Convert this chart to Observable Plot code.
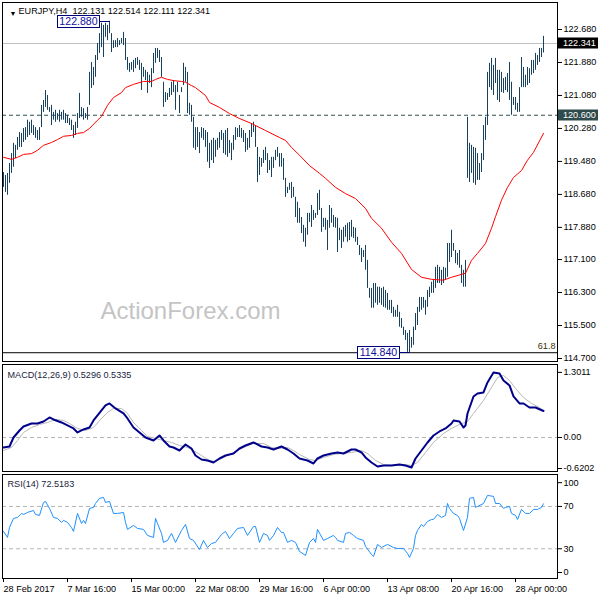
<!DOCTYPE html>
<html><head><meta charset="utf-8">
<script src="https://cdn.jsdelivr.net/npm/d3@7"></script>
<script src="https://cdn.jsdelivr.net/npm/@observablehq/plot@0.6"></script>
<style>
body{margin:0;background:#fff;}
#chart{position:relative;width:600px;height:600px;overflow:hidden;background:#fff;}
#chart svg{position:absolute;left:0;}
</style></head><body><div id="chart"></div>
<script>
// ---------- DATA ----------
const titleText = ["EURJPY,H4\u00a0 122.131 122.514 122.111 122.341"];
const macdTitle = ["MACD(12,26,9) 0.5296 0.5335"];
const rsiTitle = ["RSI(14) 72.5183"];
const watermark = ["ActionForex.com"];

const barHigh = [
119.21,119.14,119.19,119.43,119.67,119.92,119.87,120.06,120.18,120.16,
120.28,120.30,120.48,120.43,120.48,120.35,120.30,120.23,120.30,120.84,
120.96,121.20,121.08,120.79,120.84,120.67,120.72,120.64,120.72,120.67,
120.72,120.64,120.60,120.52,120.48,120.35,120.43,120.64,121.13,120.79,
120.76,120.64,120.79,121.64,121.88,121.76,122.05,122.34,122.58,122.83,
122.78,122.83,122.78,122.88,122.58,122.41,122.41,122.46,122.41,122.46,
122.61,122.46,122.00,121.86,121.88,121.93,121.98,122.00,121.93,121.86,
121.76,121.69,121.64,121.57,121.73,122.10,122.22,122.22,122.17,122.00,
121.40,121.15,121.13,121.25,121.40,121.44,121.32,121.40,121.08,121.27,
121.86,121.76,121.64,120.89,120.84,120.55,120.30,120.30,120.18,120.30,
120.28,120.23,120.18,119.92,119.99,120.04,119.99,120.04,120.18,120.23,
120.16,120.23,120.28,119.99,119.92,120.11,120.30,120.28,120.35,120.28,
120.23,120.16,120.04,120.23,120.40,120.43,120.35,119.82,119.58,119.55,
119.75,119.82,119.67,119.50,119.58,119.58,119.75,119.82,119.67,119.67,
119.55,119.07,118.85,118.95,118.97,118.85,118.61,118.49,118.34,118.12,
117.93,117.86,118.22,118.22,118.41,118.29,118.22,118.70,118.78,118.34,
118.10,118.10,118.05,118.41,118.34,118.17,118.12,118.10,117.86,117.81,
117.88,117.93,117.98,118.00,118.05,117.88,117.86,117.64,117.44,117.37,
117.32,117.44,117.08,116.40,116.40,116.52,116.52,116.43,116.43,116.40,
116.43,116.35,116.28,116.11,116.11,115.94,115.87,115.99,115.82,115.67,
115.46,115.38,115.31,115.38,115.21,115.46,115.79,115.94,116.18,116.18,
116.18,116.11,116.35,116.43,116.55,116.60,116.91,116.96,116.91,116.84,
116.91,116.89,117.49,117.49,117.81,117.49,117.32,117.25,117.32,116.96,
116.84,117.08,120.55,119.92,119.87,119.82,119.80,119.67,119.43,119.67,
120.35,120.55,121.64,121.86,121.98,121.81,121.98,121.69,121.69,121.64,
121.49,121.52,121.61,121.88,121.40,121.03,121.03,120.89,121.27,122.00,
121.76,121.57,121.76,121.73,121.93,121.93,122.10,122.05,122.22,122.22,
122.514];
const barLow = [
118.85,118.73,118.66,118.95,119.19,119.34,119.55,119.75,119.82,119.82,
119.94,119.99,120.06,120.11,120.16,120.11,120.04,119.99,119.99,120.30,
120.67,120.79,120.72,120.67,120.35,120.48,120.43,120.48,120.43,120.48,
120.48,120.40,120.40,120.35,120.23,120.04,120.11,120.28,120.52,120.55,
120.48,120.52,120.48,120.84,121.25,121.32,121.52,121.93,122.10,122.24,
122.00,122.49,122.41,122.58,122.12,122.22,122.24,122.24,122.29,122.34,
122.29,121.93,121.69,121.64,121.69,121.64,121.73,121.81,121.69,121.20,
121.52,121.44,121.13,121.37,121.27,121.61,121.86,121.98,121.88,121.52,
120.79,120.91,120.96,121.03,121.08,121.15,120.72,121.15,120.64,121.15,
121.32,121.40,120.64,120.60,120.43,119.80,119.75,119.82,119.67,120.04,
119.99,119.82,119.46,119.31,119.50,119.43,119.58,119.75,119.80,119.99,
119.67,119.63,119.58,119.67,119.50,119.75,119.99,120.06,120.06,120.04,
119.94,119.70,119.75,119.80,120.06,120.18,119.82,118.97,119.14,119.34,
119.43,119.50,119.19,119.26,119.09,119.31,119.50,119.58,119.34,119.34,
119.02,118.61,118.70,118.78,118.58,118.61,118.12,117.98,117.98,117.73,
117.52,117.40,117.69,118.00,117.88,118.05,118.10,118.17,118.29,117.76,
117.88,117.81,117.32,117.86,117.98,117.88,117.86,117.27,117.56,117.37,
117.52,117.64,117.52,117.56,117.64,117.61,117.52,117.44,117.20,117.03,
117.15,116.84,116.40,116.16,115.92,115.92,116.04,115.99,116.04,115.99,
115.94,115.92,115.87,115.87,115.79,115.70,115.70,115.70,115.46,115.43,
115.26,115.14,114.85,114.84,114.95,115.02,115.38,115.50,115.82,115.87,
115.92,115.75,115.94,116.18,116.28,116.28,116.40,116.52,116.52,116.47,
116.52,116.60,116.67,117.03,117.15,117.30,117.00,116.96,116.89,116.52,
116.43,116.43,119.07,118.97,119.19,118.95,118.90,119.02,119.02,119.21,
119.50,119.99,120.35,121.27,121.20,121.08,121.37,120.96,120.91,121.15,
121.13,121.20,121.15,120.96,120.60,120.84,120.72,120.67,120.67,121.27,
121.27,121.27,121.32,121.37,121.57,121.61,121.69,121.81,121.88,122.00,
122.111];

const maIdx = [0,4,7,10,14,17,20,24,27,30,34,37,40,43,47,49,52,55,59,61,65,70,74,76,79,82,85,89,91,94,
96,101,103,108,113,118,124,131,138,141,144,148,153,158,161,166,171,176,181,184,189,194,199,204,209,214,220,224,229,231,
234,237,241,244,246,249,252,255,259,262,265,270];
const maVal = [119.58,119.53,119.58,119.65,119.67,119.75,119.87,119.94,120.01,120.09,120.11,120.16,120.18,120.28,120.48,120.57,120.84,121.03,121.15,121.27,
121.35,121.42,121.42,121.47,121.52,121.47,121.44,121.42,121.40,121.32,121.27,121.08,120.91,120.79,120.64,120.52,120.40,120.23,120.06,119.99,
119.82,119.63,119.38,119.19,119.07,118.85,118.70,118.58,118.34,118.10,117.86,117.52,117.25,116.86,116.67,116.62,116.60,116.67,116.74,116.77,
117.08,117.25,117.49,117.86,118.14,118.54,118.85,119.09,119.26,119.51,119.70,120.16];

const macdIdx = [0,3,5,8,10,14,17,20,23,25,29,32,35,37,40,43,45,49,51,53,56,60,62,65,68,71,75,78,80,83,85,88,91,94,96,99,102,105,108,111,115,118,121,125,129,132,135,139,142,145,148,
152,155,157,160,164,167,170,174,176,179,181,184,187,190,194,198,201,204,206,209,212,215,218,221,224,225,228,230,231,232,235,237,240,242,245,248,250,253,255,258,260,263,266,270];
const macdVal = [-0.20,-0.18,0.00,0.14,0.22,0.28,0.28,0.32,0.40,0.36,0.30,0.24,0.18,0.10,0.16,0.20,0.34,0.54,0.64,0.68,0.58,0.48,0.38,0.20,0.10,0.00,-0.06,0.04,-0.06,-0.18,-0.20,-0.26,-0.14,-0.22,-0.36,-0.44,-0.46,-0.50,-0.42,-0.36,-0.32,-0.22,-0.16,-0.10,-0.18,-0.20,-0.24,-0.18,-0.24,-0.32,-0.42,
-0.46,-0.52,-0.42,-0.36,-0.32,-0.30,-0.32,-0.24,-0.24,-0.30,-0.40,-0.50,-0.58,-0.56,-0.56,-0.54,-0.56,-0.60,-0.42,-0.26,-0.10,0.04,0.12,0.18,0.28,0.34,0.32,0.20,0.24,0.48,0.82,0.88,0.90,1.10,1.30,1.28,1.14,1.04,0.82,0.68,0.68,0.60,0.60,0.53];
const sigIdx = [0,4,7,10,14,18,22,26,30,33,37,41,45,49,52,55,59,62,65,69,72,76,80,84,88,92,95,99,103,106,110,115,120,125,130,134,138,142,145,148,
153,156,160,165,169,174,179,182,186,190,195,200,204,207,211,215,220,224,228,232,235,240,244,247,250,253,256,260,264,268,270];
const sigVal = [-0.26,-0.20,-0.06,0.10,0.20,0.26,0.30,0.36,0.34,0.28,0.18,0.14,0.20,0.38,0.50,0.58,0.58,0.48,0.30,0.14,0.02,-0.02,-0.06,-0.10,-0.16,-0.20,-0.26,-0.36,-0.46,-0.48,-0.40,-0.30,-0.20,-0.12,-0.12,-0.20,-0.22,-0.20,-0.26,-0.34,
-0.44,-0.46,-0.40,-0.34,-0.32,-0.30,-0.26,-0.32,-0.46,-0.54,-0.56,-0.54,-0.56,-0.50,-0.30,-0.10,0.08,0.18,0.26,0.32,0.48,0.74,1.00,1.20,1.24,1.14,0.98,0.80,0.68,0.60,0.53];

const rsiIdx = [0,2,3,5,7,9,10,12,15,16,18,20,21,23,25,27,29,30,32,34,35,37,39,40,41,43,45,46,48,50,51,53,55,57,60,61,62,65,67,70,72,75,76,77,79,80,82,84,86,89,
91,93,95,98,100,102,104,106,109,111,113,115,117,120,122,125,126,128,130,132,133,135,137,139,140,142,144,146,148,
151,153,155,156,157,160,162,165,166,167,170,171,173,175,177,180,181,184,185,187,189,192,195,197,200,202,203,205,206,207,
209,210,212,214,215,217,219,221,222,223,225,227,228,230,232,233,235,236,237,240,242,245,246,248,250,251,253,254,256,257,259,261,263,265,267,269,270];
const rsiVal = [46.4,40.7,50.1,58.7,59.6,63.4,62.4,64.3,66.2,62.4,61.5,73.8,74.7,68.1,59.6,58.7,54.9,56.8,54.9,50.1,46.4,63.4,53.9,56.8,53.9,68.1,69.1,72.8,77.6,78.5,
73.8,74.7,63.4,63.4,64.3,54.9,48.3,52.1,49.2,48.3,42.6,40.7,58.7,53.9,44.5,36.0,37.9,44.5,36.0,47.3,53.0,39.7,37.9,29.3,37.9,31.2,35.0,36.0,43.5,46.4,
39.7,44.5,49.2,50.1,42.6,51.1,51.1,36.0,44.5,42.6,37.9,42.6,50.1,45.4,45.4,36.0,37.9,36.0,27.5,
23.7,36.0,39.7,36.0,48.3,37.9,39.7,42.6,40.7,37.9,36.0,44.5,45.4,42.6,39.7,37.9,32.2,24.6,22.7,34.1,31.2,34.1,31.2,30.3,30.3,25.6,21.8,30.3,42.6,47.3,
53.0,51.1,55.8,57.7,57.7,62.4,59.6,61.5,72.8,68.1,63.4,61.5,58.7,47.3,59.6,77.6,78.5,69.1,70.0,72.8,80.4,79.5,72.8,72.8,68.1,69.1,70.0,63.4,61.5,57.7,67.2,63.4,63.4,67.2,67.2,69.1,72.5];

const priceTicks = [122.680,121.880,121.080,120.280,119.480,118.680,117.880,117.100,116.300,115.500,114.700];
const macdTicks = [1.3011, 0, -0.6202];
const rsiLevels = [30, 70];
const timeTickIdx = [0,32,64,96,128,160,192,224,256];
const timeTickLabels = ["28 Feb 2017","7 Mar 16:00","15 Mar 00:00","22 Mar 08:00","29 Mar 16:00","6 Apr 00:00","13 Apr 08:00","20 Apr 16:00","28 Apr 00:00"];
const lastPrice = [122.341];
const supportLevel = [120.600];
const fiboLevel = [114.840];
const fiboLabel = ["61.8"];
const extremeIdx = [53, 203];
const extremePrice = [122.880, 114.840];

// ---------- RENDER ----------
const FONT = "'Liberation Sans', Arial, sans-serif";
const FS = 9.1;
const barColor = "#17415e";
const bars = barHigh.map((h, i) => ({i, hi: h, lo: barLow[i]}));
const xScale = {domain: [0, 270], range: [3, 543], axis: null, label: null};
const baseStyle = {background: "transparent", fontFamily: FONT, fontSize: FS + "px", color: "#000", overflow: "visible"};

function tagMark(values, labels, fill, color) {
  return (index, scales, vals, dim) => {
    const g = d3.create("svg:g");
    values.forEach((v, k) => {
      const y = Math.round(scales.y(v));
      const x0 = dim.width - dim.marginRight + 1;
      g.append("rect").attr("x", x0).attr("y", y - 5.5).attr("width", 40).attr("height", 11).attr("fill", fill);
      g.append("text").attr("x", x0 + 5).attr("y", y).attr("dy", "0.36em").attr("text-anchor", "start")
        .attr("fill", color).attr("font-family", FONT).attr("font-size", FS).text(labels[k]);
    });
    return g.node();
  };
}
function extremeMark() {
  return (index, scales) => {
    const g = d3.create("svg:g");
    extremeIdx.forEach((bi, k) => {
      const bx = scales.x(bi) + 0.5;
      const y = Math.round(scales.y(extremePrice[k])) + 0.5;
      const right = Math.round(bx - 11) + 0.5;
      const w = 42, h = 12;
      g.append("line").attr("x1", right).attr("x2", bx).attr("y1", y).attr("y2", y).attr("stroke", "#00007a");
      g.append("rect").attr("x", right - w).attr("y", y - h / 2).attr("width", w).attr("height", h)
        .attr("fill", "#fff").attr("stroke", "#00007a");
      g.append("text").attr("x", right - w / 2).attr("y", y).attr("dy", "0.36em").attr("text-anchor", "middle")
        .attr("fill", "#1010a0").attr("font-family", FONT).attr("font-size", 10.6).text(extremePrice[k].toFixed(3));
    });
    return g.node();
  };
}

const mainPlot = Plot.plot({
  width: 600, height: 364,
  marginLeft: 2, marginRight: 43, marginTop: 2, marginBottom: 3,
  style: baseStyle,
  x: xScale,
  y: {domain: [114.70, 122.68], range: [358, 29], label: null},
  marks: [
    Plot.text(watermark, {frameAnchor: "bottom-left", textAnchor: "start", lineAnchor: "middle", dx: 98, dy: -50, fontSize: 24, fill: "#c4c4c4", fontFamily: FONT}),
    Plot.ruleY(lastPrice, {stroke: "#c0c0c0"}),
    Plot.ruleY(supportLevel, {stroke: "#2f4f4f", strokeDasharray: "4,3"}),
    Plot.ruleY(fiboLevel, {stroke: "#000"}),
    Plot.text(fiboLabel, {y: fiboLevel, frameAnchor: "right", textAnchor: "end", dx: -2, dy: -7, fill: "#3a3000", fontSize: FS}),
    Plot.ruleX(bars, {x: "i", y1: "lo", y2: "hi", stroke: barColor, strokeWidth: 1}),
    Plot.line(maVal, {x: maIdx, y: maVal, stroke: "#ff0000", strokeWidth: 1}),
    extremeMark(),
    Plot.frame({stroke: "#000"}),
    Plot.axisY({anchor: "right", ticks: priceTicks, tickFormat: d => d.toFixed(3), tickSize: 4, tickPadding: 2}),
    tagMark(supportLevel, ["120.600"], "#2f4a4a", "#fff"),
    tagMark(lastPrice, ["122.341"], "#000", "#fff"),
    Plot.text(["\u25BC"], {frameAnchor: "top-left", dx: 7, dy: 9, fontSize: 7}),
    Plot.text(titleText, {frameAnchor: "top-left", textAnchor: "start", lineAnchor: "middle", dx: 16, dy: 8.5, fill: "#000"})
  ]
});

const macdPlot = Plot.plot({
  width: 600, height: 110,
  marginLeft: 2, marginRight: 43, marginTop: 2, marginBottom: 1,
  style: baseStyle,
  x: xScale,
  y: {domain: [-0.6202, 1.3011], range: [106, 9.9], label: null},
  marks: [
    Plot.ruleY([0], {stroke: "#b4b4b4", strokeDasharray: "4,3"}),
    Plot.line(sigVal, {x: sigIdx, y: sigVal, stroke: "#b8b8b8", strokeWidth: 1}),
    Plot.line(macdVal, {x: macdIdx, y: macdVal, stroke: "#00008b", strokeWidth: 2}),
    Plot.frame({stroke: "#000"}),
    Plot.axisY({anchor: "right", ticks: macdTicks, tickFormat: d => d === 0 ? "0.00" : String(d), tickSize: 4, tickPadding: 2}),
    Plot.text(macdTitle, {frameAnchor: "top-left", textAnchor: "start", lineAnchor: "middle", dx: 5, dy: 10.5, fill: "#1a2440"})
  ]
});

const rsiPlot = Plot.plot({
  width: 600, height: 128,
  marginLeft: 2, marginRight: 43, marginTop: 2, marginBottom: 22,
  style: baseStyle,
  x: {domain: [0, 270], range: [3, 543], label: null},
  y: {domain: [0, 100], range: [108, 2.2], label: null},
  marks: [
    Plot.ruleY(rsiLevels, {stroke: "#b4b4b4", strokeDasharray: "4,3"}),
    Plot.line(rsiVal, {x: rsiIdx, y: rsiVal, stroke: "#1e90ff", strokeWidth: 1}),
    Plot.frame({stroke: "#000"}),
    Plot.axisY({anchor: "right", ticks: rsiLevels, tickSize: 4, tickPadding: 2}),
    Plot.axisY({anchor: "right", ticks: [100], tickSize: 4, tickPadding: 2, dy: 8}),
    Plot.axisY({anchor: "right", ticks: [0], tickSize: 4, tickPadding: 2, dy: -8}),
    Plot.axisX({anchor: "bottom", ticks: timeTickIdx, tickFormat: d => timeTickLabels[timeTickIdx.indexOf(d)], textAnchor: "start", tickSize: 4, tickPadding: 3}),
    Plot.text(rsiTitle, {frameAnchor: "top-left", textAnchor: "start", lineAnchor: "middle", dx: 5, dy: 10, fill: "#1a2440"})
  ]
});

const root = document.getElementById("chart");
mainPlot.style.top = "0px";
macdPlot.style.top = "362px";
rsiPlot.style.top = "472px";
root.append(mainPlot, macdPlot, rsiPlot);
</script></body></html>
